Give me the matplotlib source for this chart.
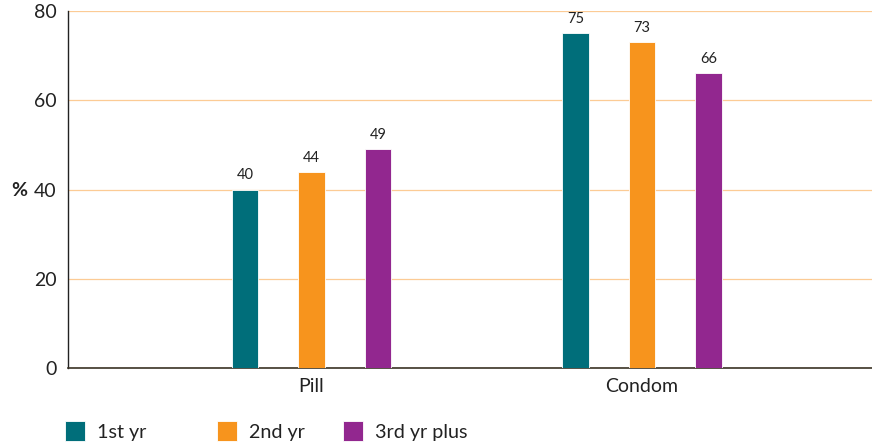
import matplotlib
matplotlib.use("Agg")
import matplotlib.pyplot as plt
import numpy as np
from matplotlib.patches import Rectangle

plt.rcParams['font.family'] = ['Lato', 'DejaVu Sans']

categories = ["Pill", "Condom"]
series_names = ["1st yr", "2nd yr", "3rd yr plus"]
first_yr = [40, 75]
second_yr = [44, 73]
third_yr_plus = [49, 66]
colors = ["#006E7A", "#F7941D", "#92278F"]
y_ticks = [0, 20, 40, 60, 80]

W, H = 872, 444
fig = plt.figure(figsize=(W/100, H/100), dpi=100)
ax = fig.add_axes([68/W, 1-368/H, 804/W, (368-11)/H])

x = np.arange(len(categories))
offset = 0.201
width = 0.080
for i, (vals, col) in enumerate(zip([first_yr, second_yr, third_yr_plus], colors)):
    pos = x + (i - 1) * offset
    bars = ax.bar(pos, vals, width=width, color=col, edgecolor="white", linewidth=0.6, zorder=3)
    for b, v in zip(bars, vals):
        ax.text(b.get_x() + b.get_width()/2, v + 1.6, str(v), ha="center", va="bottom",
                fontsize=10.5, color="#222222")

ax.set_xlim(-0.737, 1.696)
ax.set_ylim(0, 80)
ax.set_yticks(y_ticks)
ax.set_xticks(x)
ax.set_xticklabels(categories, fontsize=14, color="#222222")
ax.tick_params(axis="y", length=0, labelsize=14, labelcolor="#222222", pad=8)
ax.tick_params(axis="x", length=0, pad=7)
ax.yaxis.grid(True, color="#FCCB95", linewidth=0.9, zorder=0)
ax.set_axisbelow(True)
for s in ["top", "right"]:
    ax.spines[s].set_visible(False)
ax.spines["left"].set_color("#222222")
ax.spines["bottom"].set_color("#3a3326")
ax.spines["left"].set_linewidth(1.0)
ax.spines["bottom"].set_linewidth(1.2)

fig.text(19/W, 1-191/H, "%", fontsize=14, fontweight="bold", ha="center", va="center", color="#222222")

# legend row along the bottom
legend_boxes = [65, 217, 343]
for bx, col, name in zip(legend_boxes, colors, series_names):
    fig.patches.append(Rectangle((bx/W, 1-441/H), 20/W, 20/H, transform=fig.transFigure,
                                 facecolor=col, edgecolor="white", linewidth=0.6))
    fig.text((bx + 32)/W, 1-432/H, name, fontsize=14.2, ha="left", va="center", color="#222222")

fig.savefig("out.png", dpi=100)
